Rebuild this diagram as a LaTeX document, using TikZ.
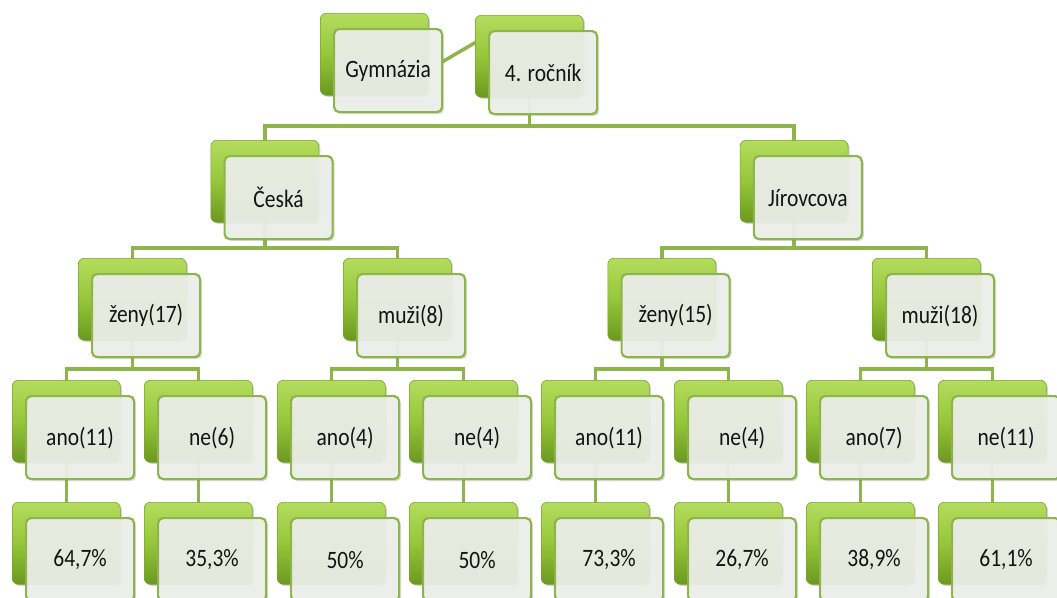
\documentclass[tikz,border=0pt]{standalone}
\usepackage{fontspec}
\setmainfont[FakeStretch=0.86]{Carlito}
\usetikzlibrary{shadows,backgrounds}
\definecolor{gtop}{HTML}{B4DC5E}
\definecolor{gmid}{HTML}{96C63A}
\definecolor{gbot}{HTML}{6B9820}
\definecolor{gedge}{HTML}{78A52C}
\definecolor{wfill}{HTML}{EEF0EB}
\definecolor{wedge}{HTML}{8DB54B}
\definecolor{conncol}{HTML}{8DB54B}
\tikzset{
  gbox/.style={rectangle, rounded corners=6pt, minimum width=108pt, minimum height=82pt,
    inner sep=0pt, top color=gtop, bottom color=gbot, middle color=gmid, draw=gedge, line width=0.6pt,
    drop shadow={shadow xshift=1.5pt, shadow yshift=-1.5pt, opacity=0.35}},
  wbox/.style={rectangle, rounded corners=5pt, minimum width=108pt, minimum height=83pt,
    inner sep=0pt, fill=wfill, fill opacity=0.92, text opacity=1, draw=wedge, line width=2.2pt,
    font=\fontsize{25}{28}\selectfont, text=black!92,
    drop shadow={shadow xshift=2pt, shadow yshift=-2pt, opacity=0.3}},
  conn/.style={draw=conncol, line width=3.5pt}
}
\newcommand\treebox[4]{%
  \node[gbox, anchor=north west] (#1g) at (#2,#3) {};
  \node[wbox, anchor=north west] (#1) at ({#2+13},{#3+15}) {#4};
}
\begin{document}
\begin{tikzpicture}[x=1pt,y=-1pt]
\useasboundingbox (0,0) rectangle (1057,597);
% level 1
\treebox{gym}{320}{13}{Gymnázia}
\treebox{roc}{475}{15}{4. ročník}
% level 2
\treebox{ces}{210.5}{140}{Česká}
\treebox{jir}{739.75}{140}{Jírovcova}
% level 3
\treebox{cz}{78}{258}{ženy(17)}
\treebox{cm}{343}{258}{muži(8)}
\treebox{jz}{607.5}{258}{ženy(15)}
\treebox{jm}{872}{258}{muži(18)}
% level 4
\treebox{cza}{12}{380}{ano(11)}
\treebox{czn}{144}{380}{ne(6)}
\treebox{cma}{277}{380}{ano(4)}
\treebox{cmn}{409}{380}{ne(4)}
\treebox{jza}{541}{380}{ano(11)}
\treebox{jzn}{674}{380}{ne(4)}
\treebox{jma}{806}{380}{ano(7)}
\treebox{jmn}{938}{380}{ne(11)}
% level 5
\treebox{czap}{12}{502}{64,7\%}
\treebox{cznp}{144}{502}{35,3\%}
\treebox{cmap}{277}{502}{50\%}
\treebox{cmnp}{409}{502}{50\%}
\treebox{jzap}{541}{502}{73,3\%}
\treebox{jznp}{674}{502}{26,7\%}
\treebox{jmap}{806}{502}{38,9\%}
\treebox{jmnp}{938}{502}{61,1\%}
\coordinate (b1) at (0,126);
\coordinate (b2) at (0,248);
\coordinate (b3) at (0,369);
\begin{scope}[on background layer]
  \coordinate (gl) at (442,62);
  \coordinate (rl) at (478,41);
  \draw[conn] (gl) -- (rl);
  \draw[conn] (rocg.center) -- (rocg.center |- b1);
  \draw[conn] (cesg.center) |- (b1 -| rocg.center) -| (jirg.center);
  \draw[conn] (cesg.center) -- (cesg.center |- b2);
  \draw[conn] (czg.center) |- (b2 -| cesg.center) -| (cmg.center);
  \draw[conn] (jirg.center) -- (jirg.center |- b2);
  \draw[conn] (jzg.center) |- (b2 -| jirg.center) -| (jmg.center);
  \foreach \p/\a/\b in {cz/cza/czn, cm/cma/cmn, jz/jza/jzn, jm/jma/jmn}{
    \draw[conn] (\p g.center) -- (\p g.center |- b3);
    \draw[conn] (\a g.center) |- (b3 -| \p g.center) -| (\b g.center);
  }
  \foreach \a in {cza,czn,cma,cmn,jza,jzn,jma,jmn}{
    \draw[conn] (\a g.center) -- (\a pg.center);
  }
\end{scope}
\end{tikzpicture}
\end{document}
